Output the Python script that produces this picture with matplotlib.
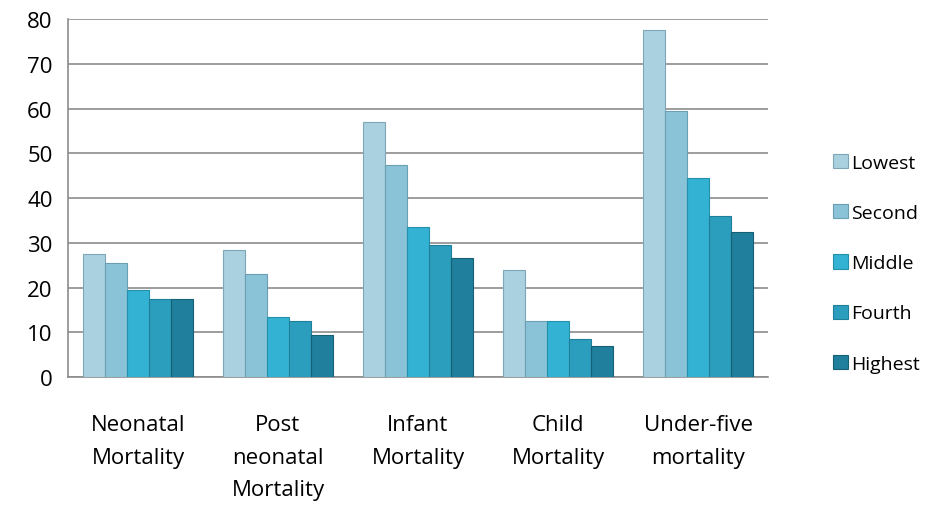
import numpy as np
import matplotlib.pyplot as plt

categories = ["Neonatal\nMortality", "Post\nneonatal\nMortality", "Infant\nMortality",
              "Child\nMortality", "Under-five\nmortality"]
series = ["Lowest", "Second", "Middle", "Fourth", "Highest"]
lowest = [27.5, 28.5, 57, 24, 77.5]
second = [25.5, 23, 47.5, 12.5, 59.5]
middle = [19.5, 13.5, 33.5, 12.5, 44.5]
fourth = [17.5, 12.5, 29.5, 8.5, 36]
highest = [17.5, 9.5, 26.5, 7, 32.5]
values = [lowest, second, middle, fourth, highest]

colors = ["#a9d1e0", "#8ac3d7", "#33b2d3", "#2b9dbd", "#1f7f9c"]
edges = ["#7fa6b5", "#6a9fb3", "#2590ad", "#1f7f99", "#175f75"]

plt.rcParams['font.family'] = ['Open Sans', 'DejaVu Sans']
fig = plt.figure(figsize=(9.31, 5.06), dpi=100)
ax = fig.add_axes([0.073, 0.253, 0.752, 0.707])

x = np.arange(len(categories))
w = 0.158
for i, (name, vals) in enumerate(zip(series, values)):
    ax.bar(x + (i - 2) * w, vals, w, color=colors[i], edgecolor=edges[i],
           linewidth=0.8, label=name, zorder=3)

ax.set_ylim(0, 80)
ax.set_xlim(-0.5, 4.5)
ax.set_yticks(range(0, 81, 10))
ax.set_xticks(x)
ax.set_xticklabels(categories, fontsize=16, linespacing=1.7)
ax.tick_params(axis='y', labelsize=16, length=0, pad=11)
ax.tick_params(axis='x', length=0, pad=27)
ax.grid(axis='y', color='#8c8c8c', linewidth=1.2, zorder=0)
for s in ['top', 'right']:
    ax.spines[s].set_visible(False)
for s in ['left', 'bottom']:
    ax.spines[s].set_color('#8c8c8c')
    ax.spines[s].set_linewidth(1.2)

ax.legend(loc='center left', bbox_to_anchor=(1.068, 0.318), frameon=False,
          fontsize=14, labelspacing=1.66, handlelength=0.75, handleheight=0.75,
          handletextpad=0.15)

fig.savefig("out.png", dpi=100)
